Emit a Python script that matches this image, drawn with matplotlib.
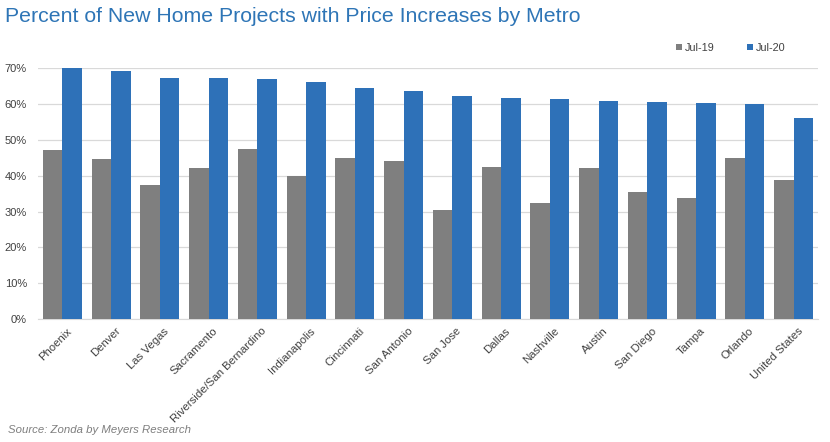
import matplotlib.pyplot as plt
import numpy as np
from matplotlib.ticker import PercentFormatter

plt.rcParams['font.family'] = ['Liberation Sans', 'DejaVu Sans']

metros = ["Phoenix", "Denver", "Las Vegas", "Sacramento", "Riverside/San Bernardino",
          "Indianapolis", "Cincinnati", "San Antonio", "San Jose", "Dallas",
          "Nashville", "Austin", "San Diego", "Tampa", "Orlando", "United States"]
jul19 = [47.2, 44.7, 37.4, 42.1, 47.5, 39.9, 45.0, 44.2, 30.4, 42.4,
         32.4, 42.1, 35.4, 33.9, 44.9, 38.9]
jul20 = [70.0, 69.3, 67.2, 67.2, 66.9, 66.2, 64.4, 63.6, 62.4, 61.6,
         61.3, 60.8, 60.5, 60.4, 60.0, 56.0]

GRAY = "#7F7F7F"
BLUE = "#2E71B8"

fig = plt.figure(figsize=(8.3, 4.42), dpi=100)
ax = fig.add_axes([0.0458, 0.2783, 0.9397, 0.5672])

x = np.arange(len(metros))
w = 0.4
ax.bar(x - w/2, jul19, w, color=GRAY, label="Jul-19", zorder=3)
ax.bar(x + w/2, jul20, w, color=BLUE, label="Jul-20", zorder=3)

ax.set_xlim(-0.5, len(metros) - 0.5)
ax.set_ylim(0, 70)
ax.set_yticks(range(0, 71, 10))
ax.yaxis.set_major_formatter(PercentFormatter(decimals=0))
ax.grid(axis="y", color="#D9D9D9", linewidth=0.9, zorder=0)
for s in ["top", "right", "left"]:
    ax.spines[s].set_visible(False)
ax.spines["bottom"].set_color("#D9D9D9")
ax.tick_params(axis="both", length=0, labelsize=8, labelcolor="#404040")
ax.tick_params(axis="y", pad=8)
ax.tick_params(axis="x", pad=5)
ax.set_xticks(x + 0.08)
ax.set_xticklabels(metros, rotation=45, ha="right", rotation_mode="anchor", fontsize=8.2)

leg = fig.legend(loc="upper right", bbox_to_anchor=(0.958, 0.925), ncol=2, frameon=False,
                 fontsize=7.8, handlelength=0.55, handleheight=0.55, handletextpad=0.25,
                 columnspacing=3.0)
for t in leg.get_texts():
    t.set_color("#404040")

fig.text(0.006, 0.985, "Percent of New Home Projects with Price Increases by Metro",
         fontsize=15.3, color="#2E75B6", va="top")
fig.text(0.01, 0.027, "Source: Zonda by Meyers Research", fontsize=8.2,
         fontstyle="italic", color="#7F7F7F", va="center")

fig.savefig("out.png", dpi=100)
